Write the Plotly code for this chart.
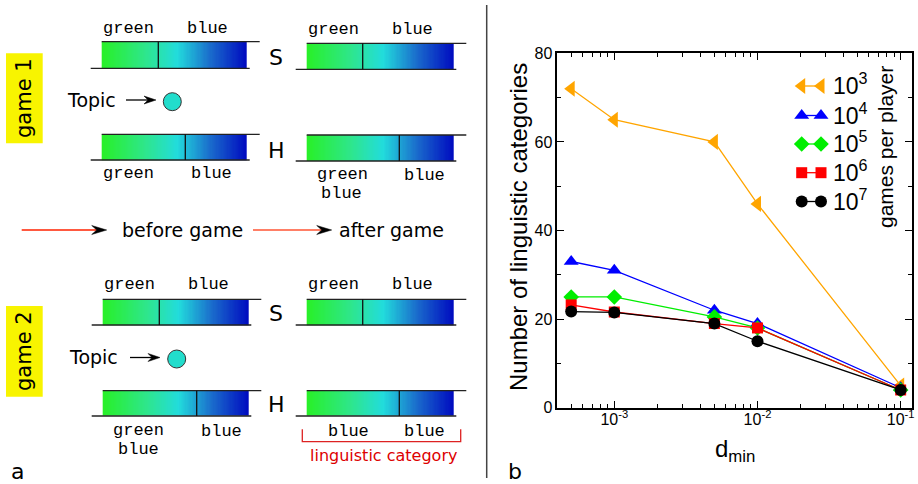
import numpy as np
import plotly.graph_objects as go

# ---------------- data (panel b) ----------------
d_min = [5e-4, 1e-3, 5e-3, 1e-2, 1e-1]
games_labels = ["10<sup>3</sup>", "10<sup>4</sup>", "10<sup>5</sup>", "10<sup>6</sup>", "10<sup>7</sup>"]
cat_1e3 = [72, 65, 60, 46, 5]
cat_1e4 = [33, 31, 22, 19, 4.5]
cat_1e5 = [25, 25, 20.5, 18, 4]
cat_1e6 = [23.2, 21.6, 19, 18, 4]
cat_1e7 = [21.7, 21.5, 19, 15, 4]
series = [cat_1e3, cat_1e4, cat_1e5, cat_1e6, cat_1e7]
colors = ["#ffa500", "#0000ff", "#00ee00", "#ff0000", "#000000"]
symbols = ["triangle-left", "triangle-up", "diamond", "square", "circle"]
msizes = [14, 13, 12, 11, 12]

x_ticks = [1e-3, 1e-2, 1e-1]
x_ticktext = ["10<sup>-3</sup>", "10<sup>-2</sup>", "10<sup>-1</sup>"]

# ---------------- schematic (panel a) ----------------
# bars: x0, x1, ytop, ybot, xdivider
bars = [
    (101.7, 246.7, 41.7, 68.3, 158.3),
    (306.7, 453.3, 43.3, 69.3, 362.7),
    (101.7, 246.7, 134.3, 160.0, 185.3),
    (306.7, 453.3, 135.0, 161.0, 399.3),
    (102.7, 248.3, 299.3, 325.0, 159.3),
    (306.7, 453.3, 299.3, 325.0, 362.7),
    (102.7, 248.3, 390.7, 416.0, 196.7),
    (306.7, 453.3, 390.7, 416.0, 399.3),
]
word_labels = [
    ("green", 128, 28), ("blue", 207, 28), ("green", 333, 29), ("blue", 412, 29),
    ("green", 128, 173), ("blue", 211, 173), ("green", 342, 174.5), ("blue", 341, 193), ("blue", 424, 175),
    ("green", 129, 284), ("blue", 208, 284), ("green", 333, 284), ("blue", 412, 284),
    ("green", 138, 430), ("blue", 138, 449), ("blue", 221, 431), ("blue", 348, 431), ("blue", 424, 431),
]
gradient = [[0, "#28f028"], [0.3, "#2ee68c"], [0.52, "#22dcdc"], [0.75, "#1a6ccc"], [1, "#000cc0"]]

W, H = 918, 484
fig = go.Figure()

# gradient bars via heatmaps on a pixel overlay axis
for (x0, x1, yt, yb, xd) in bars:
    n = 120
    fig.add_trace(go.Heatmap(
        z=[np.linspace(0, 1, n)], x=np.linspace(x0, x1, n + 1), y=[yt, yb],
        colorscale=gradient, zmin=0, zmax=1, showscale=False, hoverinfo="skip",
        xaxis="x2", yaxis="y2"))

shapes = []
LC = "#222222"
for (x0, x1, yt, yb, xd) in bars:
    shapes.append(dict(type="line", x0=x0, x1=x1 + 13, y0=yt, y1=yt, line=dict(color=LC, width=1.3)))
    shapes.append(dict(type="line", x0=x0 - 11, x1=x1 + 3, y0=yb, y1=yb, line=dict(color=LC, width=1.3)))
    shapes.append(dict(type="line", x0=xd, x1=xd, y0=yt, y1=yb, line=dict(color="#111111", width=1.3)))


def arrow(xs, xe, y, col_line, head_len=13, half=4.5, notch=9):
    s = [dict(type="line", x0=xs, x1=xe - notch, y0=y, y1=y, line=dict(color=col_line, width=1.3))]
    path = f"M {xe},{y} L {xe-head_len},{y-half} L {xe-notch},{y} L {xe-head_len},{y+half} Z"
    s.append(dict(type="path", path=path, fillcolor="black", line=dict(color="black", width=0.5)))
    return s


shapes += arrow(126, 156, 100, "black", head_len=12, half=4, notch=8)
shapes += arrow(130, 160, 357.5, "black", head_len=12, half=4, notch=8)
shapes += arrow(21.7, 106.7, 230, "#ff2200", head_len=15, half=4.5, notch=10)
shapes += arrow(253, 331.7, 230, "#ff5533", head_len=15, half=4.5, notch=10)

for (cx, cy) in [(172.3, 101.7), (176.7, 359)]:
    shapes.append(dict(type="circle", x0=cx - 9, x1=cx + 9, y0=cy - 9, y1=cy + 9,
                       fillcolor="#22ddcc", line=dict(color="#333333", width=1)))

# yellow game boxes
for (y0, y1) in [(53.3, 143.3), (306, 396.7)]:
    shapes.append(dict(type="rect", x0=6, x1=42.7, y0=y0, y1=y1, fillcolor="#f8f400",
                       line=dict(width=0), layer="below"))

# red bracket
shapes.append(dict(type="path", path="M 302.3,429.3 L 302.3,441.7 L 460.7,441.7 L 460.7,429.3",
                   line=dict(color="#dd2222", width=1.3)))
# separator
shapes.append(dict(type="line", x0=486.7, x1=486.7, y0=5, y1=478, line=dict(color="#444444", width=1.5)))

for s in shapes:
    s.setdefault("xref", "x2")
    s.setdefault("yref", "y2")

annotations = []


def txt(t, x, y, size, family="DejaVu Sans", color="black", angle=0, xanchor="center"):
    annotations.append(dict(text=t, x=x, y=y, xref="x2", yref="y2", showarrow=False,
                            font=dict(size=size, family=family, color=color), textangle=angle,
                            xanchor=xanchor, yanchor="middle"))


for (t, x, y) in word_labels:
    txt(t, x, y, 17, family="Courier New")
for (t, x, y) in [("S", 276, 57), ("H", 276, 150), ("S", 276, 313), ("H", 276, 404)]:
    txt(t, x, y, 22)
txt("Topic", 91, 100, 19)
txt("Topic", 93.3, 357.3, 19)
txt("before game", 182.5, 230, 19)
txt("after game", 391.7, 230, 19)
txt("game 1", 24, 98, 21, angle=-90)
txt("game 2", 24, 351, 21, angle=-90)
txt("linguistic category", 383.3, 455, 16, color="#dd0000")
txt("a", 17, 471, 22)
txt("b", 515, 471, 22)

# chart titles
SANS = "Liberation Sans, Arial, sans-serif"
txt("Number of linguistic categories", 518, 227, 24, family=SANS, angle=-90)
txt("d<sub>min</sub>", 735, 450, 24, family=SANS)
txt("games per player", 885, 147, 21, family=SANS, angle=-90)

# ---------------- data traces ----------------
for vals, c, sym, ms in zip(series, colors, symbols, msizes):
    fig.add_trace(go.Scatter(x=d_min, y=vals, mode="lines+markers",
                             line=dict(color=c, width=1.3),
                             marker=dict(symbol=sym, size=ms, color=c, line=dict(width=0)),
                             showlegend=False, xaxis="x", yaxis="y", cliponaxis=False))

# custom legend (two markers joined by a line, as in the reference)
leg_rows = [86, 115.5, 144, 172.7, 201.5]
for lab, c, sym, ms, ly in zip(games_labels, colors, symbols, msizes, leg_rows):
    fig.add_trace(go.Scatter(x=[801.7, 821], y=[ly, ly], mode="lines+markers",
                             line=dict(color=c, width=1.3),
                             marker=dict(symbol=sym, size=ms, color=c),
                             showlegend=False, hoverinfo="skip", xaxis="x2", yaxis="y2"))
    txt(lab, 831, ly - 2, 23, family=SANS, xanchor="left")

minor_x = [k * 10.0 ** e for e in (-4, -3, -2) for k in range(2, 10) if 4e-4 <= k * 10.0 ** e <= 0.1]

axis_common = dict(showgrid=False, zeroline=False, showline=True, linecolor="black", linewidth=1.5,
                   ticks="inside", ticklen=7, tickwidth=1.2, tickcolor="black", mirror="ticks",
                   automargin=False,
                   tickfont=dict(family=SANS, size=16, color="black"))

fig.update_layout(
    width=W, height=H, margin=dict(l=0, r=0, t=0, b=0, autoexpand=False),
    paper_bgcolor="white", plot_bgcolor="rgba(0,0,0,0)",
    xaxis=dict(type="log", range=[-3.398, -0.923], domain=[557.3 / W, 911.7 / W], anchor="y",
               tickvals=x_ticks, ticktext=x_ticktext, ticklabelstandoff=-4,
               minor=dict(ticks="inside", ticklen=4, tickwidth=1, tickcolor="black",
                          tickmode="array", tickvals=minor_x, showgrid=False),
               **axis_common),
    yaxis=dict(range=[0, 80], domain=[1 - 407.7 / H, 1 - 53.3 / H], anchor="x",
               tickmode="linear", tick0=0, dtick=20,
               minor=dict(ticks="inside", ticklen=4, tickwidth=1, tickcolor="black", dtick=10, showgrid=False),
               **axis_common),
    xaxis2=dict(range=[0, W], domain=[0, 1], anchor="y2", visible=False, fixedrange=True, automargin=False),
    yaxis2=dict(range=[H, 0], domain=[0, 1], anchor="x2", visible=False, fixedrange=True, automargin=False),
    shapes=shapes, annotations=annotations, showlegend=False,
)

fig.write_html("out.html")
